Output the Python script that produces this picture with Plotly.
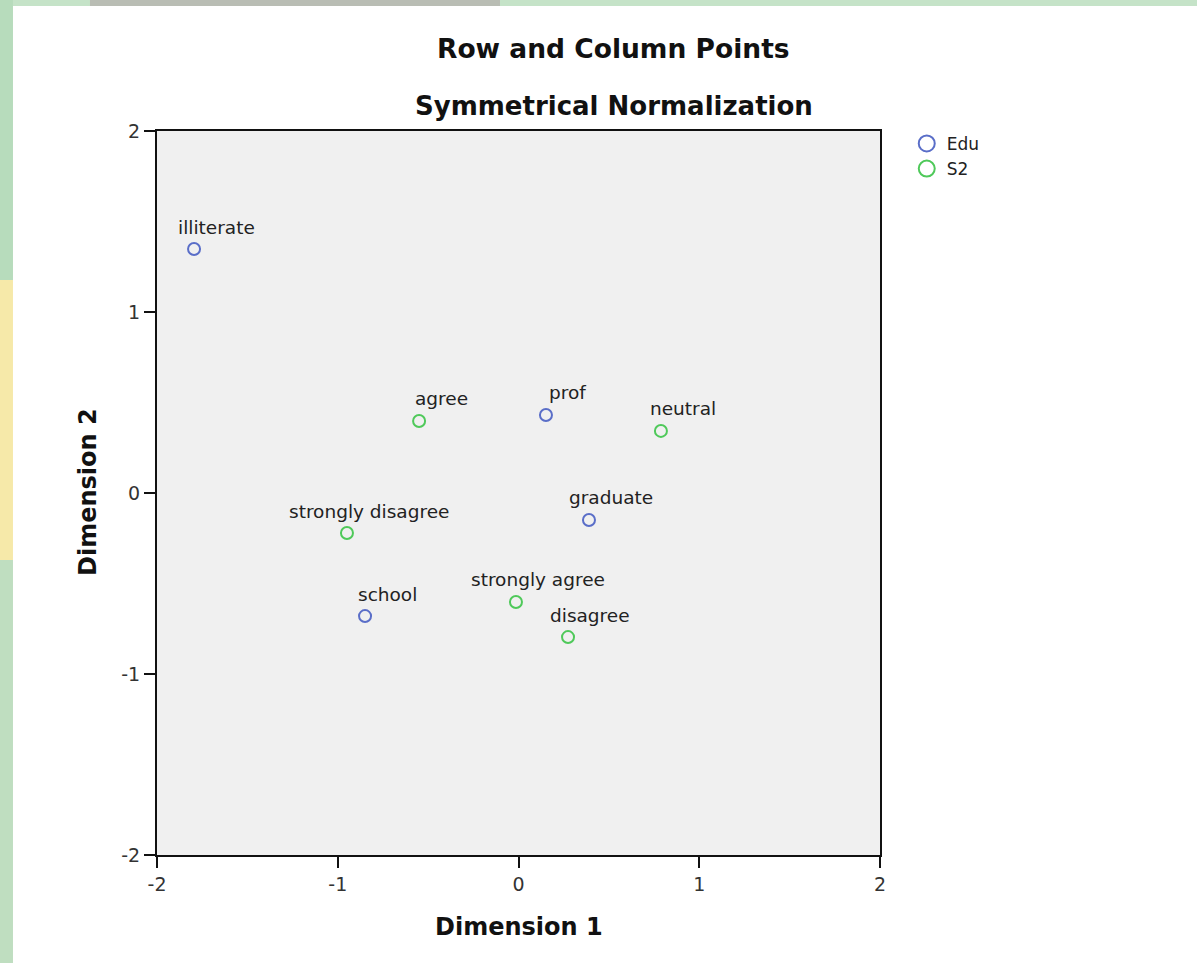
import plotly.graph_objects as go

# ---- data ----
edu_labels = ["illiterate", "prof", "graduate", "school"]
edu_dim1 = [-1.795, 0.152, 0.390, -0.849]
edu_dim2 = [1.348, 0.431, -0.149, -0.680]

s2_labels = ["agree", "neutral", "strongly disagree", "strongly agree", "disagree"]
s2_dim1 = [-0.550, 0.788, -0.949, -0.014, 0.274]
s2_dim2 = [0.398, 0.343, -0.221, -0.602, -0.796]

tick_vals = [-2, -1, 0, 1, 2]
tick_text = ["-2", "-1", "0", "1", "2"]

BLUE = "#5a6ec8"
GREEN = "#4fc95a"
FONT = "DejaVu Sans"

fig = go.Figure()

def add_series(name, xs, ys, color):
    fig.add_trace(go.Scatter(
        x=xs, y=ys, mode="markers", name=name, showlegend=False,
        marker=dict(symbol="circle-open", size=12, color=color, line=dict(width=2, color=color)),
    ))
    # legend-only entry with larger symbol
    fig.add_trace(go.Scatter(
        x=[None], y=[None], mode="markers", name=name, showlegend=True,
        marker=dict(symbol="circle-open", size=18, color=color, line=dict(width=2, color=color)),
    ))

add_series("Edu", edu_dim1, edu_dim2, BLUE)
add_series("S2", s2_dim1, s2_dim2, GREEN)

annotations = []
for lab, x, y in list(zip(edu_labels, edu_dim1, edu_dim2)) + list(zip(s2_labels, s2_dim1, s2_dim2)):
    annotations.append(dict(
        x=x, y=y, xref="x", yref="y", text=lab, showarrow=False,
        xshift=22, yshift=22, xanchor="center", yanchor="middle",
        font=dict(family=FONT, size=18.5, color="#222222"),
    ))

# titles
annotations += [
    dict(text="<b>Row and Column Points</b>", x=0.632, y=1.1146, xref="paper", yref="paper",
         showarrow=False, xanchor="center", yanchor="middle",
         font=dict(family=FONT, size=26.5, color="#111111")),
    dict(text="<b>Symmetrical Normalization</b>", x=0.632, y=1.0345, xref="paper", yref="paper",
         showarrow=False, xanchor="center", yanchor="middle",
         font=dict(family=FONT, size=26, color="#111111")),
    dict(text="<b>Dimension 1</b>", x=0.5, y=-0.0994, xref="paper", yref="paper",
         showarrow=False, xanchor="center", yanchor="middle",
         font=dict(family=FONT, size=24, color="#111111")),
    dict(text="<b>Dimension 2</b>", x=-0.0954, y=0.5014, xref="paper", yref="paper",
         showarrow=False, xanchor="center", yanchor="middle", textangle=-90,
         font=dict(family=FONT, size=24, color="#111111")),
]

# decorative background stripes (outside plot)
shapes = [
    dict(type="rect", xref="paper", yref="paper", x0=-0.2172, x1=-0.1992, y0=0.7942, y1=1.1810,
         fillcolor="#b7dcbc", line=dict(width=0), layer="below"),
    dict(type="rect", xref="paper", yref="paper", x0=-0.2172, x1=-0.1992, y0=0.4075, y1=0.7942,
         fillcolor="#f6e9a9", line=dict(width=0), layer="below"),
    dict(type="rect", xref="paper", yref="paper", x0=-0.2172, x1=-0.1992, y0=-0.1492, y1=0.4075,
         fillcolor="#bfdec0", line=dict(width=0), layer="below"),
    dict(type="rect", xref="paper", yref="paper", x0=-0.1992, x1=1.4385, y0=1.1727, y1=1.1810,
         fillcolor="#c5e3c8", line=dict(width=0), layer="below"),
    dict(type="rect", xref="paper", yref="paper", x0=-0.0927, x1=0.4744, y0=1.1727, y1=1.1810,
         fillcolor="#b9bdb4", line=dict(width=0), layer="below"),
]

axis_common = dict(
    range=[-2, 2], tickmode="array", tickvals=tick_vals, ticktext=tick_text,
    showgrid=False, zeroline=False, showline=True, linecolor="#111111", linewidth=2,
    mirror=True, ticks="outside", ticklen=11, tickwidth=2, tickcolor="#111111",
    tickfont=dict(family=FONT, size=19, color="#333333"), fixedrange=True,
)

fig.update_layout(
    width=1197, height=963,
    margin=dict(l=157, r=317, t=131, b=108),
    paper_bgcolor="white", plot_bgcolor="#f0f0f0",
    xaxis=axis_common, yaxis=axis_common,
    annotations=annotations, shapes=shapes,
    legend=dict(x=1.037, y=1.007, xanchor="left", yanchor="top",
                font=dict(family=FONT, size=17, color="#222222"),
                bgcolor="rgba(0,0,0,0)", borderwidth=0, tracegroupgap=0),
    showlegend=True,
)

fig.write_html("out.html", config={"displayModeBar": False},
               post_script="document.body.style.margin='0';document.body.style.padding='0';")
